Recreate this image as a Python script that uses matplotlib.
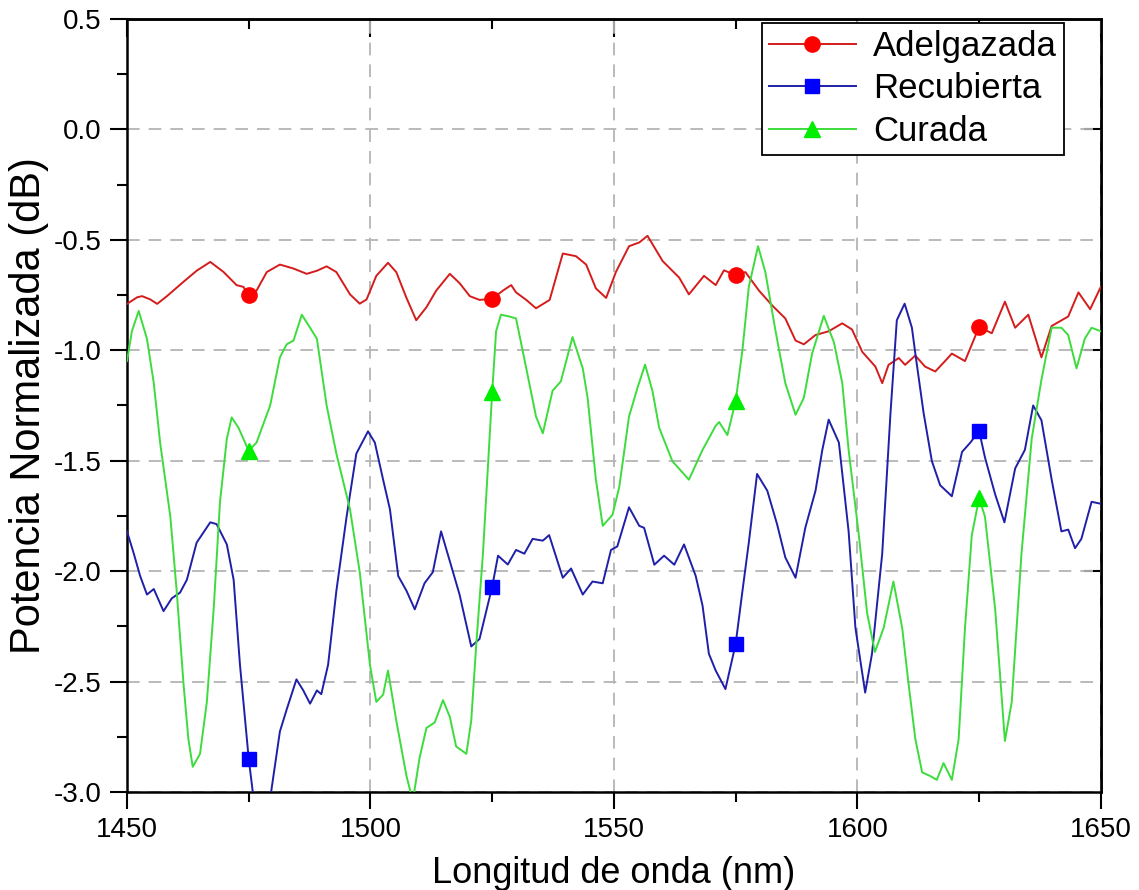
import numpy as np
import matplotlib
matplotlib.use('Agg')
import matplotlib.pyplot as plt
from matplotlib.lines import Line2D

plt.rcParams['font.family'] = ['Liberation Sans', 'DejaVu Sans']

# Adelgazada (red)
red_x = [1450.0, 1452.1, 1453.1, 1454.8, 1456.2, 1458.2, 1461.6, 1464.3, 1467.1, 1469.8,
         1472.5, 1473.9, 1475.0, 1476.6, 1478.7, 1481.4, 1484.2, 1486.9, 1489.0, 1491.0,
         1493.0, 1495.8, 1497.8, 1499.2, 1501.2, 1503.6, 1505.3, 1507.4, 1509.4, 1511.5,
         1513.5, 1516.3, 1518.3, 1520.4, 1522.4, 1525.0, 1527.2, 1528.9, 1529.9, 1532.0,
         1534.0, 1536.8, 1539.5, 1542.2, 1544.3, 1546.3, 1548.4, 1550.4, 1553.1, 1555.2,
         1556.9, 1560.0, 1563.4, 1565.4, 1568.5, 1570.9, 1572.6, 1575.0, 1577.0, 1579.8,
         1582.5, 1585.2, 1587.3, 1589.0, 1591.4, 1594.1, 1596.9, 1598.9, 1601.0, 1603.7,
         1605.1, 1606.4, 1608.5, 1609.8, 1611.9, 1613.9, 1616.0, 1618.0, 1619.4, 1622.1,
         1625.0, 1627.6, 1630.3, 1632.4, 1635.1, 1637.8, 1639.9, 1643.3, 1645.4, 1647.8,
         1650.0]
red_y = [-0.79, -0.76, -0.755, -0.77, -0.79, -0.755, -0.69, -0.64, -0.60, -0.645,
         -0.705, -0.713, -0.75, -0.73, -0.646, -0.612, -0.63, -0.654, -0.64, -0.62,
         -0.646, -0.747, -0.789, -0.77, -0.663, -0.604, -0.646, -0.763, -0.864, -0.805,
         -0.73, -0.654, -0.696, -0.755, -0.772, -0.767, -0.73, -0.705, -0.738, -0.772,
         -0.81, -0.772, -0.562, -0.574, -0.612, -0.72, -0.763, -0.646, -0.529, -0.512,
         -0.482, -0.596, -0.671, -0.747, -0.663, -0.705, -0.638, -0.66, -0.646, -0.73,
         -0.797, -0.856, -0.956, -0.973, -0.931, -0.914, -0.878, -0.906, -1.007, -1.074,
         -1.149, -1.066, -1.035, -1.066, -1.024, -1.074, -1.096, -1.049, -1.015, -1.049,
         -0.894, -0.923, -0.78, -0.898, -0.839, -1.032, -0.89, -0.847, -0.738, -0.814,
         -0.713]

# Recubierta (blue)
blue_x = [1450.0, 1451.4, 1452.7, 1454.1, 1455.5, 1457.5, 1459.2, 1460.9, 1462.3, 1464.3,
          1467.1, 1468.4, 1470.5, 1471.9, 1473.2, 1475.0, 1476.0, 1477.7, 1479.4, 1481.4,
          1482.8, 1484.8, 1486.2, 1487.6, 1489.0, 1489.9, 1491.3, 1493.0, 1495.1, 1497.1,
          1499.5, 1500.9, 1502.6, 1504.0, 1505.7, 1507.4, 1509.1, 1511.1, 1512.8, 1514.5,
          1516.3, 1518.3, 1520.7, 1522.4, 1525.0, 1526.2, 1528.2, 1529.9, 1531.6, 1533.3,
          1535.4, 1536.7, 1539.5, 1541.2, 1543.6, 1545.6, 1547.7, 1549.4, 1550.7, 1553.1,
          1555.2, 1556.2, 1558.3, 1560.3, 1562.4, 1564.4, 1566.8, 1568.2, 1569.5, 1570.9,
          1572.9, 1575.0, 1576.4, 1577.7, 1579.4, 1581.5, 1583.5, 1585.2, 1587.3, 1589.3,
          1591.4, 1592.8, 1594.1, 1596.2, 1598.2, 1599.6, 1601.6, 1603.0, 1605.1, 1606.8,
          1608.1, 1609.7, 1611.2, 1611.9, 1613.6, 1615.3, 1617.0, 1619.4, 1621.5, 1623.2,
          1625.0, 1626.2, 1628.3, 1630.2, 1632.4, 1634.4, 1636.1, 1637.8, 1639.9, 1641.9,
          1643.3, 1644.7, 1646.0, 1648.1, 1650.0]
blue_y = [-1.82, -1.921, -2.022, -2.106, -2.081, -2.181, -2.123, -2.097, -2.039, -1.871,
          -1.779, -1.787, -1.879, -2.039, -2.424, -2.85, -3.03, -3.15, -3.03, -2.726,
          -2.626, -2.49, -2.54, -2.6, -2.54, -2.557, -2.424, -2.089, -1.753, -1.468,
          -1.367, -1.418, -1.586, -1.72, -2.022, -2.089, -2.173, -2.055, -2.005, -1.82,
          -1.955, -2.106, -2.341, -2.307, -2.07, -1.93, -1.97, -1.904, -1.921, -1.854,
          -1.862, -1.837, -2.03, -1.988, -2.106, -2.047, -2.055, -1.904, -1.888, -1.711,
          -1.795, -1.804, -1.971, -1.93, -1.971, -1.879, -2.022, -2.156, -2.374, -2.45,
          -2.534, -2.33, -2.089, -1.871, -1.56, -1.636, -1.787, -1.938, -2.03, -1.804,
          -1.636, -1.451, -1.314, -1.418, -1.82, -2.257, -2.55, -2.374, -1.921, -1.284,
          -0.864, -0.789, -0.898, -1.015, -1.284, -1.502, -1.611, -1.661, -1.46, -1.418,
          -1.365, -1.485, -1.653, -1.779, -1.535, -1.451, -1.25, -1.317, -1.586, -1.82,
          -1.812, -1.896, -1.854, -1.686, -1.695]

# Curada (green)
green_x = [1450.0, 1451.0, 1452.4, 1454.1, 1455.5, 1456.8, 1458.9, 1460.2, 1461.6, 1462.6,
           1463.5, 1465.0, 1466.4, 1467.8, 1469.1, 1470.5, 1471.5, 1472.9, 1475.0, 1476.6,
           1479.4, 1481.4, 1482.8, 1484.2, 1485.9, 1487.6, 1489.0, 1491.0, 1493.0, 1495.8,
           1497.8, 1499.9, 1501.2, 1502.6, 1503.6, 1505.3, 1507.4, 1508.7, 1510.1, 1511.5,
           1513.2, 1514.9, 1516.3, 1517.6, 1519.7, 1520.7, 1521.7, 1523.1, 1525.0, 1525.8,
           1526.8, 1528.5, 1529.9, 1532.0, 1534.0, 1535.4, 1537.4, 1539.1, 1541.5, 1543.6,
           1544.6, 1546.3, 1547.7, 1549.7, 1551.1, 1553.1, 1554.9, 1556.4, 1557.9, 1559.3,
           1562.0, 1565.4, 1568.2, 1570.9, 1571.6, 1573.3, 1575.0, 1576.4, 1577.7, 1579.6,
           1581.1, 1583.2, 1585.2, 1587.3, 1589.0, 1590.7, 1593.1, 1595.2, 1596.9, 1598.2,
           1600.3, 1602.0, 1603.6, 1605.4, 1607.4, 1609.2, 1610.5, 1611.9, 1613.3, 1615.0,
           1616.3, 1617.7, 1619.4, 1620.8, 1622.1, 1623.5, 1625.0, 1626.2, 1628.3, 1630.3,
           1631.7, 1633.7, 1635.8, 1637.8, 1639.9, 1641.9, 1643.3, 1645.0, 1646.7, 1648.1,
           1650.0]
green_y = [-1.049, -0.914, -0.822, -0.948, -1.149, -1.418, -1.753, -2.089, -2.508, -2.76,
           -2.886, -2.827, -2.592, -2.172, -1.686, -1.401, -1.304, -1.351, -1.455, -1.418,
           -1.25, -1.032, -0.973, -0.956, -0.839, -0.898, -0.948, -1.25, -1.468, -1.72,
           -2.005, -2.425, -2.592, -2.559, -2.45, -2.676, -2.928, -3.04, -2.844, -2.71,
           -2.685, -2.584, -2.66, -2.794, -2.827, -2.676, -2.341, -1.921, -1.19, -0.914,
           -0.839, -0.847, -0.856, -1.082, -1.30, -1.376, -1.183, -1.141, -0.94, -1.082,
           -1.216, -1.586, -1.795, -1.745, -1.619, -1.30, -1.166, -1.065, -1.183, -1.351,
           -1.502, -1.586, -1.451, -1.342, -1.325, -1.384, -1.23, -0.998, -0.713, -0.529,
           -0.646, -0.914, -1.149, -1.292, -1.216, -1.015, -0.844, -0.965, -1.149, -1.451,
           -1.837, -2.19, -2.366, -2.257, -2.047, -2.257, -2.508, -2.76, -2.911, -2.928,
           -2.945, -2.869, -2.945, -2.76, -2.257, -1.837, -1.67, -1.753, -2.173, -2.769,
           -2.592, -1.921, -1.401, -1.133, -0.898, -0.898, -0.931, -1.082, -0.948, -0.898,
           -0.914]

# symbols drawn every 50 nm
mark_x = [1475, 1525, 1575, 1625]
red_mark = [-0.75, -0.767, -0.66, -0.894]
blue_mark = [-2.85, -2.07, -2.33, -1.365]
green_mark = [-1.455, -1.19, -1.23, -1.67]

labels = ['Adelgazada', 'Recubierta', 'Curada']
line_cols = ['#d41c1c', '#1f1fa8', '#3ddc3d']
mark_cols = ['#ff0000', '#0000ff', '#00ee00']
mark_shapes = ['o', 's', '^']
mark_sizes = [11, 9.5, 11.5]

fig = plt.figure(figsize=(11.39, 8.90), dpi=100)
ax = fig.add_axes([0.1115, 0.1101, 0.855, 0.8686])

series = [(red_x, red_y, red_mark), (blue_x, blue_y, blue_mark), (green_x, green_y, green_mark)]
for i, (xs, ys, ms) in enumerate(series):
    ax.plot(xs, ys, color=line_cols[i], linewidth=1.4, zorder=3)
    ax.plot(mark_x, ms, linestyle='none', marker=mark_shapes[i], markersize=mark_sizes[i],
            markerfacecolor=mark_cols[i], markeredgecolor=mark_cols[i], zorder=4)

ax.set_xlim(1450, 1650)
ax.set_ylim(-3.0, 0.5)
ax.set_xticks([1450, 1500, 1550, 1600, 1650])
ax.set_xticks([1475, 1525, 1575, 1625], minor=True)
ax.set_yticks(np.arange(-3.0, 0.51, 0.5))
ax.set_yticks(np.arange(-2.75, 0.5, 0.5), minor=True)
ax.yaxis.set_major_formatter(matplotlib.ticker.FormatStrFormatter('%.1f'))

ax.tick_params(which='major', direction='out', length=12, width=1.5, labelsize=20, pad=6)
ax.tick_params(which='minor', direction='out', length=7, width=1.5)
ax.tick_params(top=False, right=False, which='both')

top = ax.secondary_xaxis('top')
top.set_xticks([1450, 1500, 1550, 1600, 1650])
top.set_xticks([1475, 1525, 1575, 1625], minor=True)
top.tick_params(which='major', direction='in', length=13, width=1.5, labeltop=False)
top.tick_params(which='minor', direction='in', length=7, width=1.5)
top.spines['top'].set_linewidth(1.8)

right = ax.secondary_yaxis('right')
right.set_yticks([0.0, -1.0, -2.0])
right.tick_params(direction='in', length=12, width=1.5, labelright=False)
right.spines['right'].set_linewidth(1.8)

for s in ax.spines.values():
    s.set_linewidth(1.8)

ax.grid(True, which='major', linestyle=(0, (7, 5)), color='#b4b4b4', linewidth=1.3)
ax.set_axisbelow(True)

ax.set_xlabel('Longitud de onda (nm)', fontsize=26, labelpad=9)
ax.set_ylabel('Potencia Normalizada (dB)', fontsize=30, labelpad=4)

handles = [Line2D([], [], color=line_cols[i], linewidth=1.4, marker=mark_shapes[i],
                  markersize=mark_sizes[i], markerfacecolor=mark_cols[i],
                  markeredgecolor=mark_cols[i]) for i in range(3)]
leg = ax.legend(handles, labels, loc='upper right', bbox_to_anchor=(0.962, 0.995),
                fontsize=25, frameon=True, fancybox=False, framealpha=1,
                edgecolor='black', borderpad=0.2, labelspacing=0.28,
                handlelength=2.5, handletextpad=0.5, borderaxespad=0, numpoints=1)
leg.get_frame().set_linewidth(1.3)

fig.savefig('out.png', dpi=100)
